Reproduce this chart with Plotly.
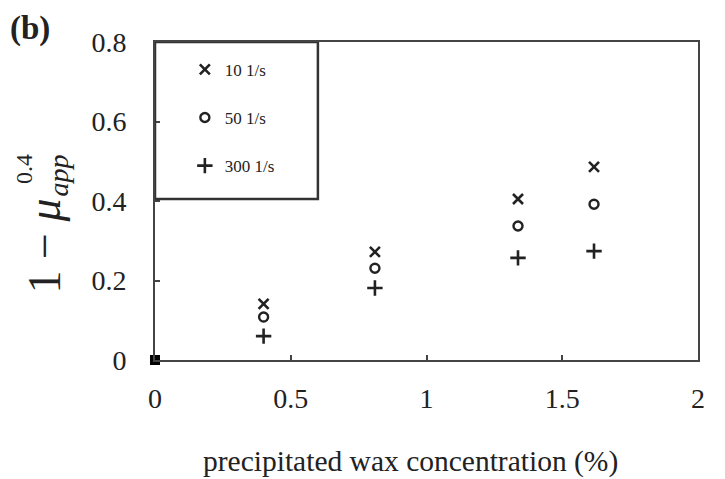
import plotly.graph_objects as go

# Data
wax_conc = [0.40, 0.81, 1.337, 1.617]
y_10 = [0.141, 0.272, 0.405, 0.486]
y_50 = [0.108, 0.231, 0.337, 0.392]
y_300 = [0.060, 0.181, 0.257, 0.274]
series_names = ["10 1/s", "50 1/s", "300 1/s"]
x_ticks = [0, 0.5, 1, 1.5, 2]
x_ticklabels = ["0", "0.5", "1", "1.5", "2"]
y_ticks = [0, 0.2, 0.4, 0.6, 0.8]
y_ticklabels = ["0", "0.2", "0.4", "0.6", "0.8"]
x_title = "precipitated wax concentration (%)"
origin_x = [0]
origin_y = [0]

SERIF = "Liberation Serif, Times New Roman, serif"
INK = "#222222"

fig = go.Figure()

styles = [
    dict(symbol="x-thin", size=10, line=dict(width=2.6, color=INK), color=INK),
    dict(symbol="circle-open", size=9, line=dict(width=2.4, color=INK), color=INK),
    dict(symbol="cross-thin", size=11, line=dict(width=2.6, color=INK), color=INK),
]
for name, ys, st, grp in zip(series_names, [y_10, y_50, y_300], styles, ["a", "b", "c"]):
    fig.add_trace(go.Scatter(x=wax_conc, y=ys, mode="markers", name=name,
                             marker=st, legendgroup=grp, cliponaxis=False))

fig.add_trace(go.Scatter(x=origin_x, y=origin_y, mode="markers", showlegend=False,
                         marker=dict(symbol="square", size=10, color="#000"),
                         cliponaxis=False))

# legend box
fig.add_shape(type="rect", xref="x", yref="y", x0=0, x1=0.6, y0=0.405, y1=0.8,
              line=dict(color="#333", width=2.5), fillcolor="rgba(0,0,0,0)")

axis_common = dict(showgrid=False, zeroline=False, showline=True, mirror=True,
                   linecolor="#444", linewidth=2, ticks="inside", ticklen=5,
                   tickwidth=1.5, tickcolor="#444", automargin=False,
                   tickfont=dict(family=SERIF, size=28, color=INK))

fig.update_xaxes(range=[0, 2], tickvals=x_ticks, ticktext=x_ticklabels,
                 ticklabelstandoff=12, **axis_common)
fig.update_yaxes(range=[0, 0.8], tickvals=y_ticks, ticktext=y_ticklabels,
                 ticklabelstandoff=21, **axis_common)

# x-axis title (offset to the left of the plot centre, as in the reference)
fig.add_annotation(text=x_title, xref="paper", yref="paper",
                   x=0.47, y=-0.318, xanchor="center", yanchor="middle",
                   showarrow=False,
                   font=dict(family=SERIF, size=29.5, color=INK))

# y-axis title pieces
fig.add_annotation(text="1 − <i>μ</i>", xref="paper", yref="paper",
                   x=-0.2026, y=0.36, xanchor="center", yanchor="middle",
                   textangle=-90, showarrow=False,
                   font=dict(family=SERIF, size=46, color=INK))
fig.add_annotation(text="0.4", xref="paper", yref="paper",
                   x=-0.24, y=0.60, xanchor="center", yanchor="middle",
                   textangle=-90, showarrow=False,
                   font=dict(family=SERIF, size=24, color=INK))
fig.add_annotation(text="<i>app</i>", xref="paper", yref="paper",
                   x=-0.177, y=0.58, xanchor="center", yanchor="middle",
                   textangle=-90, showarrow=False,
                   font=dict(family=SERIF, size=28, color=INK))
fig.add_annotation(text="<b>(b)</b>", xref="paper", yref="paper",
                   x=-0.27, y=1.044, xanchor="left", yanchor="middle",
                   showarrow=False,
                   font=dict(family=SERIF, size=33, color=INK))

fig.update_layout(
    width=725, height=479,
    margin=dict(l=155, r=27, t=42, b=119),
    paper_bgcolor="white", plot_bgcolor="white",
    showlegend=True,
    legend=dict(x=0.055, y=0.969, xanchor="left", yanchor="top",
                bgcolor="rgba(0,0,0,0)", borderwidth=0,
                font=dict(family=SERIF, size=17, color=INK),
                tracegroupgap=23, itemwidth=30),
)

fig.write_html("out.html", config={"displayModeBar": False},
               post_script="document.body.style.margin='0';")
